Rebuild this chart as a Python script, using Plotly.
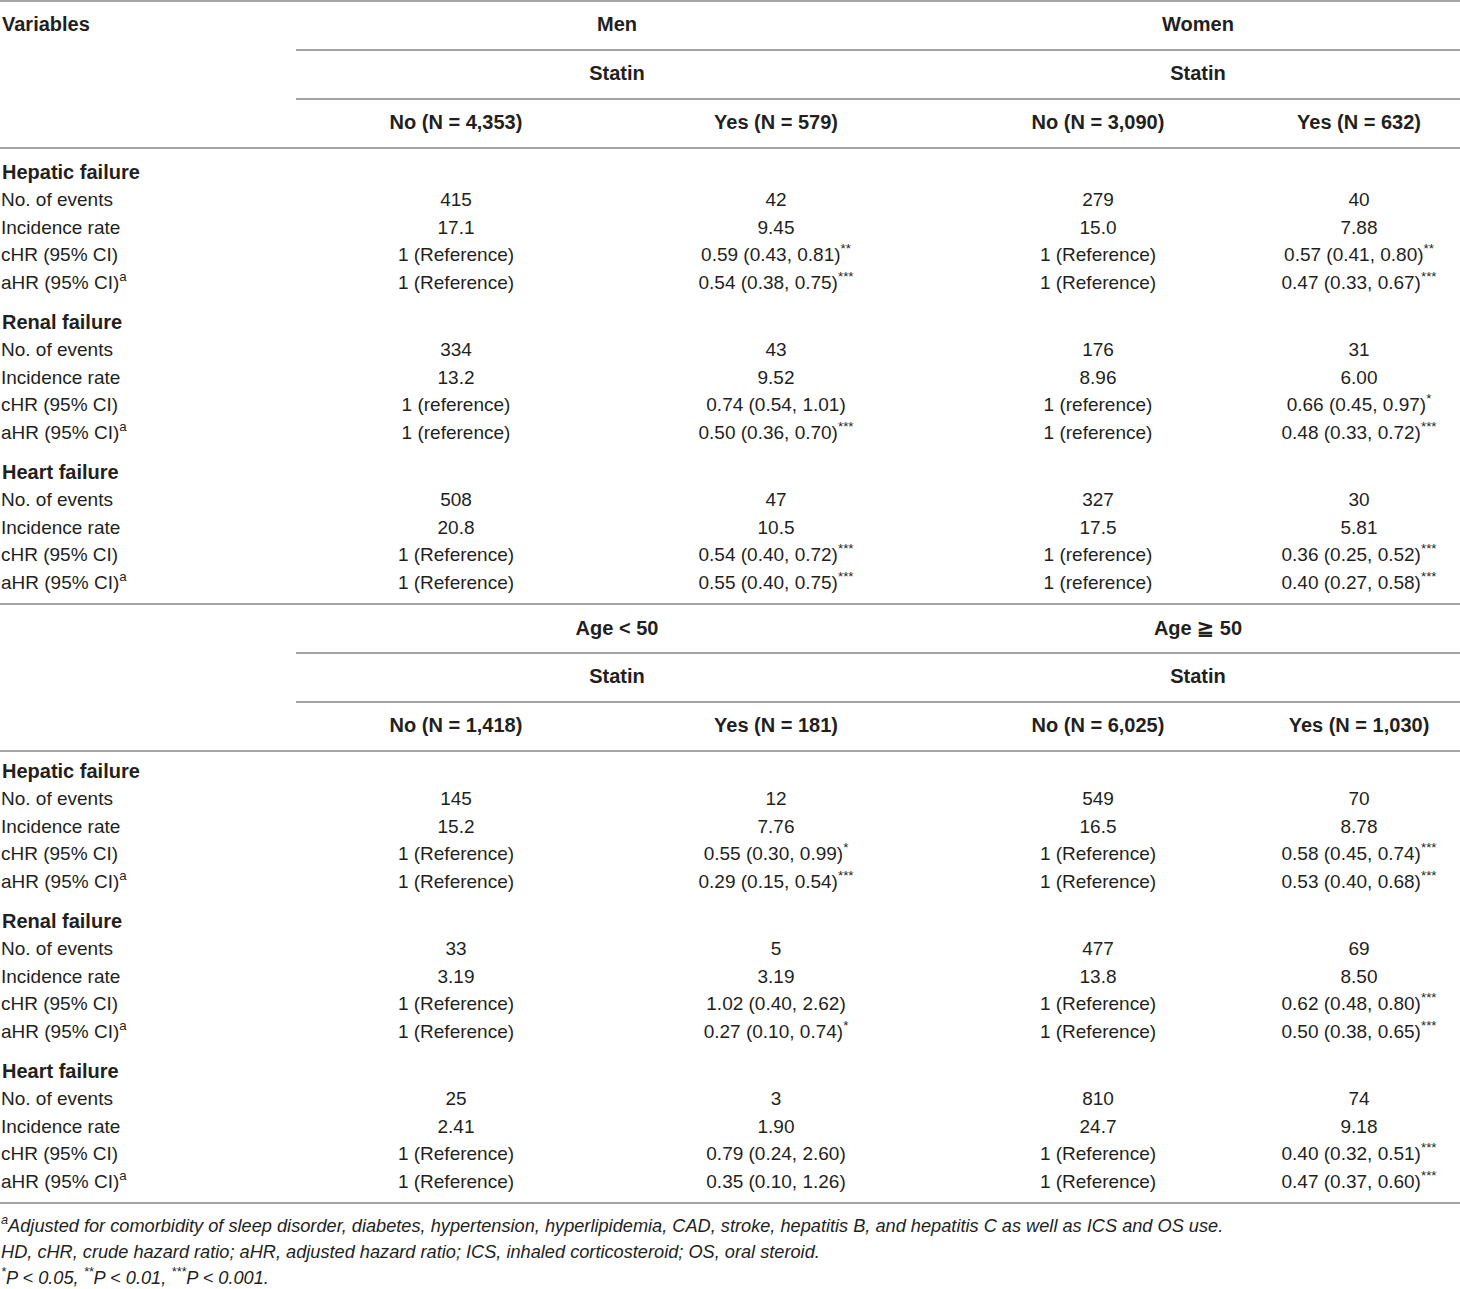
import plotly.graph_objects as go

# ---- table content ----
outcomes = ["Hepatic failure", "Renal failure", "Heart failure"]
measures = ["No. of events", "Incidence rate", "cHR (95% CI)", "aHR (95% CI)<sup>a</sup>"]

sex_groups = ["Men", "Women"]
sex_cols = ["No (N = 4,353)", "Yes (N = 579)", "No (N = 3,090)", "Yes (N = 632)"]
men_no = ["415", "17.1", "1 (Reference)", "1 (Reference)",
          "334", "13.2", "1 (reference)", "1 (reference)",
          "508", "20.8", "1 (Reference)", "1 (Reference)"]
men_yes = ["42", "9.45", "0.59 (0.43, 0.81)**", "0.54 (0.38, 0.75)***",
           "43", "9.52", "0.74 (0.54, 1.01)", "0.50 (0.36, 0.70)***",
           "47", "10.5", "0.54 (0.40, 0.72)***", "0.55 (0.40, 0.75)***"]
women_no = ["279", "15.0", "1 (Reference)", "1 (Reference)",
            "176", "8.96", "1 (reference)", "1 (reference)",
            "327", "17.5", "1 (reference)", "1 (reference)"]
women_yes = ["40", "7.88", "0.57 (0.41, 0.80)**", "0.47 (0.33, 0.67)***",
             "31", "6.00", "0.66 (0.45, 0.97)*", "0.48 (0.33, 0.72)***",
             "30", "5.81", "0.36 (0.25, 0.52)***", "0.40 (0.27, 0.58)***"]

age_groups = ["Age &lt; 50", "Age ≧ 50"]
age_cols = ["No (N = 1,418)", "Yes (N = 181)", "No (N = 6,025)", "Yes (N = 1,030)"]
young_no = ["145", "15.2", "1 (Reference)", "1 (Reference)",
            "33", "3.19", "1 (Reference)", "1 (Reference)",
            "25", "2.41", "1 (Reference)", "1 (Reference)"]
young_yes = ["12", "7.76", "0.55 (0.30, 0.99)*", "0.29 (0.15, 0.54)***",
             "5", "3.19", "1.02 (0.40, 2.62)", "0.27 (0.10, 0.74)*",
             "3", "1.90", "0.79 (0.24, 2.60)", "0.35 (0.10, 1.26)"]
old_no = ["549", "16.5", "1 (Reference)", "1 (Reference)",
          "477", "13.8", "1 (Reference)", "1 (Reference)",
          "810", "24.7", "1 (Reference)", "1 (Reference)"]
old_yes = ["70", "8.78", "0.58 (0.45, 0.74)***", "0.53 (0.40, 0.68)***",
           "69", "8.50", "0.62 (0.48, 0.80)***", "0.50 (0.38, 0.65)***",
           "74", "9.18", "0.40 (0.32, 0.51)***", "0.47 (0.37, 0.60)***"]

footnotes = [
    "<sup>a</sup>Adjusted for comorbidity of sleep disorder, diabetes, hypertension, hyperlipidemia, "
    "CAD, stroke, hepatitis B, and hepatitis C as well as ICS and OS use.",
    "HD, cHR, crude hazard ratio; aHR, adjusted hazard ratio; ICS, inhaled corticosteroid; OS, oral steroid.",
    "<sup>*</sup>P &lt; 0.05, <sup>**</sup>P &lt; 0.01, <sup>***</sup>P &lt; 0.001.",
]

# ---- layout constants (pixels) ----
W, H = 1460, 1289
FONT = "Liberation Sans"
INK = "#231f20"
RULE = "#a3a3a3"
col_x = [456, 776, 1098, 1359]
group_x = [617, 1198]
rule_x0 = 296
row_step = 27.5


def stars(s):
    core = s.rstrip("*")
    n = len(s) - len(core)
    return core + ("<sup>" + "*" * n + "</sup>" if n else "")


fig = go.Figure()
shapes = []


def rule(y, x0=0):
    shapes.append(dict(type="line", xref="x", yref="y", x0=x0, x1=W, y0=y, y1=y,
                       line=dict(color=RULE, width=2)))


def texts(xs, ys, labels, pos="middle center", bold=False, italic=False, size=19):
    if bold:
        labels = ["<b>" + t + "</b>" for t in labels]
        size = 20
    if italic:
        labels = ["<i>" + t + "</i>" for t in labels]
    fig.add_trace(go.Scatter(
        x=xs, y=ys, text=labels, mode="text", textposition=pos,
        textfont=dict(family=FONT, size=size, color=INK),
        hoverinfo="skip", showlegend=False, cliponaxis=False))


panels = [
    (sex_groups, sex_cols, [men_no, men_yes, women_no, women_yes], 1, 26, 25, True),
    (age_groups, age_cols, [young_no, young_yes, old_no, old_yes], 604, 22, 26, False),
]

for groups, cols, series, top, first_gap, head_gap, show_var in panels:
    rule(top)
    y_head = top + head_gap
    if show_var:
        texts([2], [y_head], ["Variables"], pos="middle right", bold=True)
    texts(group_x, [y_head] * 2, groups, bold=True)
    rule(top + 49, rule_x0)
    texts(group_x, [top + 74] * 2, ["Statin"] * 2, bold=True)
    rule(top + 98, rule_x0)
    texts(col_x, [top + 123] * 4, cols, bold=True)
    rule(top + 147)

    y = top + 147 + first_gap
    sec_y, row_y = [], []
    for k, name in enumerate(outcomes):
        sec_y.append(y)
        for j in range(len(measures)):
            y += row_step
            row_y.append(y)
        y += 40
    texts([2] * len(sec_y), sec_y, outcomes, pos="middle right", bold=True)
    texts([1] * len(row_y), row_y, measures * len(outcomes), pos="middle right")
    for cx, vals in zip(col_x, series):
        texts([cx] * len(vals), row_y, [stars(v) for v in vals])
    last_y = row_y[-1]

rule(last_y + 20)
foot_y = [last_y + 44 + i * 26 for i in range(len(footnotes))]
texts([1] * len(footnotes), foot_y, footnotes, pos="middle right", italic=True, size=18.2)

fig.update_layout(
    width=W, height=H,
    margin=dict(l=0, r=0, t=0, b=0),
    paper_bgcolor="white", plot_bgcolor="white",
    shapes=shapes,
    xaxis=dict(range=[0, W], visible=False, fixedrange=True),
    yaxis=dict(range=[H, 0], visible=False, fixedrange=True),
)

# drop the browser's default 8px page margin so the table sits at the page corner
fig.write_html("out.html", config={"displayModeBar": False},
               post_script="document.body.style.margin='0';document.body.style.overflow='hidden';")
